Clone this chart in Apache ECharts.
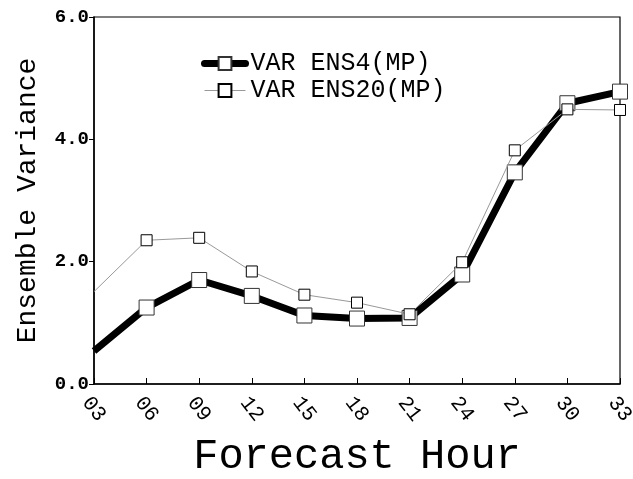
<!DOCTYPE html>
<html>
<head>
<meta charset="utf-8">
<script src="https://cdn.jsdelivr.net/npm/echarts@6/dist/echarts.min.js"></script>
<style>
  html, body { margin: 0; padding: 0; background: #fff; }
  #chart { width: 633px; height: 479px; }
</style>
</head>
<body>
<div id="chart"></div>
<script>
// forecast hours on the x axis
const hours = ['03', '06', '09', '12', '15', '18', '21', '24', '27', '30', '33'];
// ensemble variance
const ens4 = [0.54, 1.25, 1.70, 1.44, 1.12, 1.07, 1.08, 1.79, 3.46, 4.59, 4.78];
const ens20 = [1.51, 2.35, 2.39, 1.84, 1.46, 1.33, 1.14, 1.99, 3.82, 4.49, 4.48];
const yTicks = [0, 2, 4, 6];

const myChart = echarts.init(document.getElementById('chart'));

// no marker on the first point (line starts at the axis)
const noFirst = (arr) => arr.map((v, i) => (i === 0 ? { value: v, symbol: 'none' } : v));

const font = 'Liberation Mono';

const option = {
  animation: false,
  backgroundColor: '#fff',
  legend: {
    left: 196,
    top: 46,
    orient: 'vertical',
    itemWidth: 41,
    itemHeight: 16,
    itemGap: 2,
    textStyle: { fontFamily: font, fontSize: 25, color: '#000', lineHeight: 22 },
    data: [
      { name: 'VAR ENS4(MP)', lineStyle: { width: 7, color: '#000', cap: 'round' } },
      { name: 'VAR ENS20(MP)', lineStyle: { width: 1, color: '#999' } }
    ]
  },
  grid: {
    left: 94,
    right: 13,
    top: 17,
    bottom: 95,
    outerBoundsMode: 'none',
    containLabel: false,
    show: true,
    borderColor: '#000',
    borderWidth: 1.2
  },
  xAxis: {
    type: 'category',
    boundaryGap: false,
    data: hours,
    name: 'Forecast Hour',
    nameLocation: 'middle',
    nameGap: 52,
    nameTextStyle: { fontFamily: font, fontSize: 42, color: '#000' },
    axisLine: { lineStyle: { color: '#000', width: 1.5 } },
    axisTick: { inside: true, length: 6, lineStyle: { color: '#000' } },
    axisLabel: {
      rotate: -52,
      margin: 25,
      align: 'center',
      verticalAlign: 'middle',
      fontFamily: font,
      fontSize: 21,
      color: '#000'
    },
    splitLine: { show: false }
  },
  yAxis: {
    type: 'value',
    min: yTicks[0],
    max: yTicks[yTicks.length - 1],
    interval: 2,
    name: 'Ensemble Variance',
    nameLocation: 'middle',
    nameGap: 52,
    nameTextStyle: { fontFamily: font, fontSize: 28, color: '#000' },
    axisLine: { show: true, lineStyle: { color: '#000', width: 1.5 } },
    axisTick: { show: true, length: 5, lineStyle: { color: '#000' } },
    axisLabel: {
      formatter: (v) => v.toFixed(1),
      fontFamily: font,
      fontWeight: 'bold',
      fontSize: 19,
      color: '#000',
      margin: 5
    },
    splitLine: { show: false }
  },
  series: [
    {
      name: 'VAR ENS20(MP)',
      type: 'line',
      data: noFirst(ens20),
      symbol: 'rect',
      symbolSize: 11,
      lineStyle: { color: '#999', width: 1 },
      itemStyle: { color: '#fff', borderColor: '#000', borderWidth: 1 },
      z: 3
    },
    {
      name: 'VAR ENS4(MP)',
      type: 'line',
      data: noFirst(ens4),
      symbol: 'rect',
      symbolSize: 15,
      lineStyle: { color: '#000', width: 7 },
      itemStyle: { color: '#fff', borderColor: '#333', borderWidth: 1 },
      z: 2
    }
  ]
};

myChart.setOption(option);
</script>
</body>
</html>
